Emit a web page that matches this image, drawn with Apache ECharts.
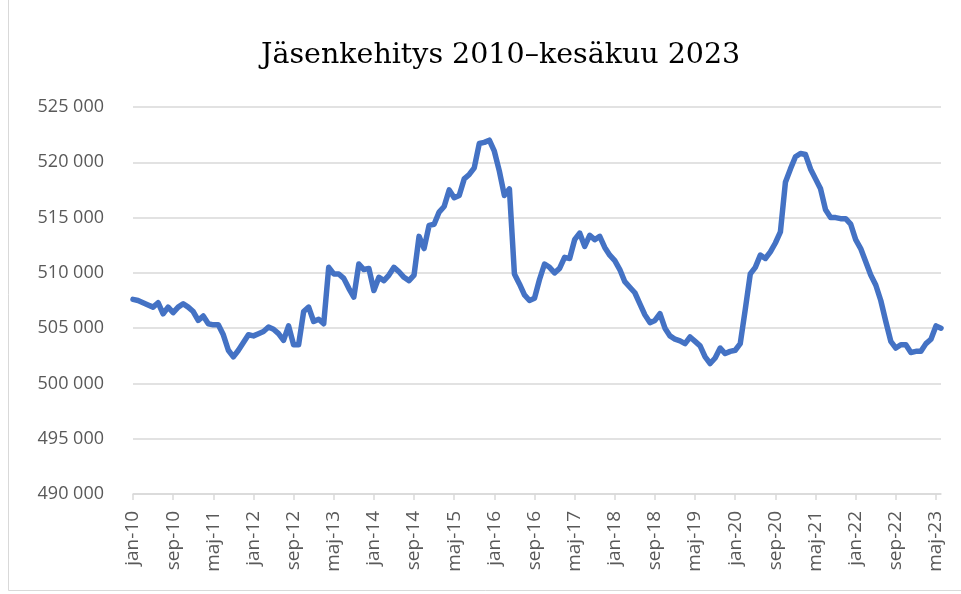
<!DOCTYPE html>
<html>
<head>
<meta charset="utf-8">
<script src="https://cdn.jsdelivr.net/npm/echarts@6/dist/echarts.min.js"></script>
<style>
  html, body { margin: 0; padding: 0; background: #fff; }
  #container { width: 961px; height: 594px; }
</style>
</head>
<body>
<div id="container"></div>
<script>
var monthNames = ['jan','feb','mar','apr','maj','jun','jul','aug','sep','okt','nov','dec'];
var firstYear = 10;

// medlemmar per månad, jan-10 .. jun-23
var members = [
    507600, 507500, 507300, 507100, 506900, 507300, 506300, 506900, 506400, 506900, 507200, 506900,
    506500, 505700, 506100, 505400, 505300, 505300, 504400, 503000, 502400, 503000, 503700, 504400,
    504300, 504500, 504700, 505100, 504900, 504500, 503900, 505200, 503500, 503500, 506500, 506900,
    505600, 505800, 505400, 510500, 509900, 509900, 509500, 508600, 507800, 510800, 510300, 510400,
    508400, 509600, 509300, 509800, 510500, 510100, 509600, 509300, 509800, 513300, 512200, 514300,
    514400, 515500, 516000, 517500, 516800, 517000, 518500, 518900, 519500, 521700, 521800, 522000,
    521000, 519200, 517000, 517600, 509900, 509000, 508000, 507500, 507700, 509400, 510800, 510500,
    510000, 510400, 511400, 511300, 513000, 513600, 512400, 513400, 513000, 513300, 512300, 511600,
    511100, 510300, 509200, 508700, 508200, 507200, 506200, 505500, 505700, 506300, 505000, 504300,
    504000, 503850, 503600, 504200, 503800, 503400, 502400, 501800, 502300, 503200, 502700, 502900,
    503000, 503600, 506700, 509900, 510500, 511600, 511300, 511900, 512700, 513700, 518200, 519400,
    520500, 520800, 520700, 519400, 518500, 517600, 515700, 515000, 515000, 514900, 514900, 514400,
    513000, 512200, 511000, 509800, 508900, 507500, 505600, 503800, 503200, 503500, 503500, 502800,
    502900, 502900, 503600, 504000, 505200, 505000
];

var months = [];
for (var i = 0; i < members.length; i++) {
    var yy = firstYear + Math.floor(i / 12);
    months.push(monthNames[i % 12] + '-' + yy);
}

var dom = document.getElementById('container');
var myChart = echarts.init(dom);

var option = {
    backgroundColor: '#ffffff',
    animation: false,
    title: {
        text: 'Jäsenkehitys 2010\u2013kesäkuu 2023',
        left: 256,
        top: 36,
        textStyle: {
            fontFamily: 'DejaVu Serif',
            fontWeight: 'normal',
            fontSize: 28.5,
            color: '#000'
        }
    },
    graphic: [{
        type: 'rect',
        shape: { x: 8.5, y: -2, width: 960, height: 592.5 },
        style: { fill: 'none', stroke: '#d9d9d9', lineWidth: 1 },
        silent: true
    }],
    grid: {
        left: 133,
        right: 20,
        top: 107,
        bottom: 100
    },
    xAxis: {
        type: 'category',
        data: months,
        boundaryGap: false,
        axisLine: { lineStyle: { color: '#d9d9d9', width: 1.5 } },
        axisTick: {
            interval: 7,
            length: 6,
            lineStyle: { color: '#d9d9d9', width: 1.5 }
        },
        axisLabel: {
            interval: 7,
            rotate: 90,
            margin: 17,
            fontFamily: 'Open Sans',
            fontSize: 19,
            color: '#595959'
        }
    },
    yAxis: {
        type: 'value',
        min: 490000,
        max: 525000,
        interval: 5000,
        axisLine: { show: false },
        axisTick: { show: false },
        splitLine: { lineStyle: { color: '#d9d9d9', width: 1.5 } },
        axisLabel: {
            margin: 29,
            fontFamily: 'Open Sans',
            fontSize: 18,
            color: '#595959',
            formatter: function (v) {
                return String(v).replace(/\B(?=(\d{3})+(?!\d))/g, ' ');
            }
        }
    },
    series: [{
        name: 'Jäsenet',
        type: 'line',
        data: members,
        showSymbol: false,
        symbol: 'none',
        lineStyle: {
            color: '#4472c4',
            width: 5.5,
            join: 'round',
            cap: 'round'
        }
    }]
};

myChart.setOption(option, true);
</script>
</body>
</html>
